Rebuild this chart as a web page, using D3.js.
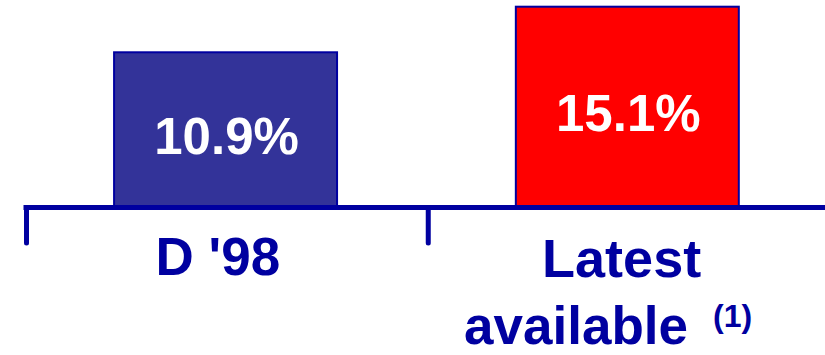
<!DOCTYPE html>
<html>
<head>
<meta charset="utf-8">
<script src="https://cdn.jsdelivr.net/npm/d3@7"></script>
<style>
  html, body { margin: 0; padding: 0; background: #ffffff; }
  svg { display: block; }
</style>
</head>
<body>
<script>
// ---- data ----
const categories = ["D '98", "Latest available"];
const values = [10.9, 15.1];
const valueLabels = ["10.9%", "15.1%"];
const barColors = ["#333399", "#FF0000"];

const W = 825, H = 355;
const axisY = 207.5;
const navy = "#0000A0";
const font = "'Liberation Sans', Arial, Helvetica, sans-serif";

const svg = d3.select("body").append("svg")
  .attr("width", W).attr("height", H);

const x = d3.scaleBand().domain(categories).range([26.5, 830]).padding(0);
const y = d3.scaleLinear().domain([-3.4, 15.1]).range([axisY, 6.7]);
const bw = x.bandwidth();

// bars
svg.selectAll("rect.bar").data(categories).join("rect")
  .attr("class", "bar")
  .attr("x", c => x(c) + bw * 0.218)
  .attr("y", (c, i) => y(values[i]))
  .attr("width", bw * 0.555)
  .attr("height", (c, i) => axisY - y(values[i]))
  .attr("fill", (c, i) => barColors[i])
  .attr("stroke", navy)
  .attr("stroke-width", 2);

// value labels
svg.selectAll("text.val").data(categories).join("text")
  .attr("class", "val")
  .attr("x", c => x(c) + bw * 0.218 + bw * 0.2775 + 1)
  .attr("y", (c, i) => (y(values[i]) + axisY) / 2 + 24)
  .attr("text-anchor", "middle")
  .attr("font-family", font)
  .attr("font-weight", "bold")
  .attr("font-size", 51)
  .attr("fill", "#ffffff")
  .text((c, i) => valueLabels[i]);

// axis line
svg.append("line")
  .attr("x1", 23.5).attr("x2", W + 5)
  .attr("y1", axisY).attr("y2", axisY)
  .attr("stroke", navy).attr("stroke-width", 5);

// ticks at category boundaries
svg.selectAll("line.tick").data(categories).join("line")
  .attr("class", "tick")
  .attr("x1", c => x(c)).attr("x2", c => x(c))
  .attr("y1", axisY).attr("y2", 243)
  .attr("stroke", navy).attr("stroke-width", 5)
  .attr("stroke-linecap", "round");

// category labels
const lab = svg.append("g")
  .attr("font-family", font)
  .attr("font-weight", "bold")
  .attr("fill", navy);

const c0 = x(categories[0]) + bw / 2;
const c1 = x(categories[1]) + bw / 2;

lab.append("text")
  .attr("x", c0 - 9.5).attr("y", 275)
  .attr("text-anchor", "middle")
  .attr("font-size", 53)
  .text(categories[0]);

const words = categories[1].split(" ");
lab.append("text")
  .attr("x", c1 - 7.5).attr("y", 276.5)
  .attr("text-anchor", "middle")
  .attr("font-size", 54)
  .text(words[0]);

const t2 = lab.append("text")
  .attr("x", c1 - 21).attr("y", 343.5)
  .attr("text-anchor", "middle")
  .attr("font-size", 53);
t2.append("tspan").text(words[1]);
t2.append("tspan")
  .attr("font-size", 32)
  .attr("dx", 25)
  .attr("dy", -16.5)
  .text("(1)");
</script>
</body>
</html>
